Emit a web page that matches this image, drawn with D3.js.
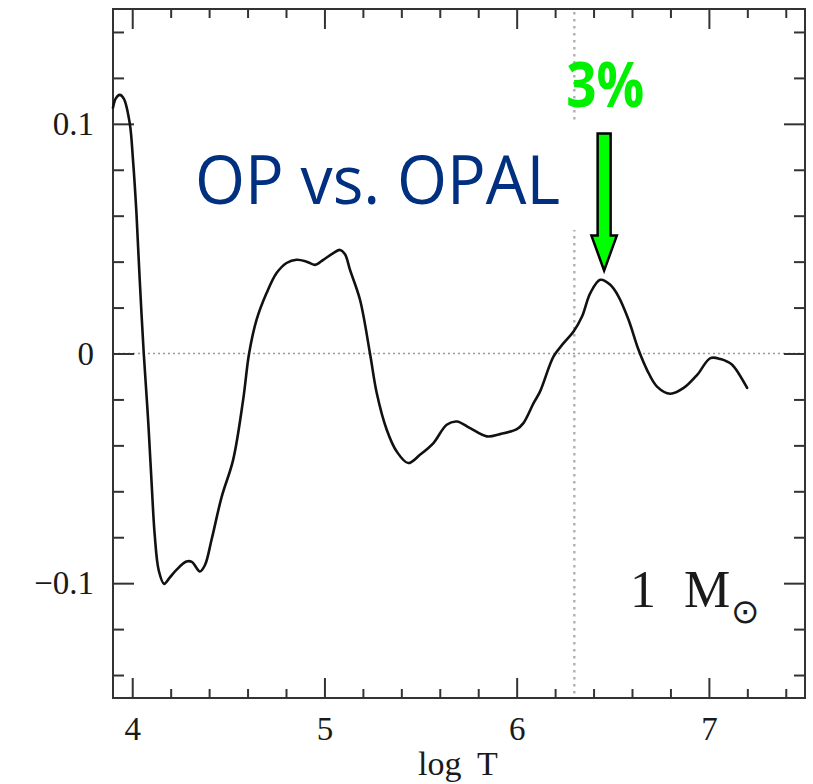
<!DOCTYPE html>
<html>
<head>
<meta charset="utf-8">
<script src="https://cdn.jsdelivr.net/npm/d3@7"></script>
<style>
  html, body { margin: 0; padding: 0; background: #fff; }
  svg { display: block; }
</style>
</head>
<body>
<svg id="chart" width="813" height="784"></svg>
<script>
// Relative opacity difference (OP vs. OPAL) along a 1 solar-mass model, versus log T
const logT = [3.90, 3.914, 3.935, 3.956, 3.987, 4.004, 4.022, 4.039, 4.060, 4.082, 4.100, 4.117, 4.138, 4.166,
  4.195, 4.230, 4.282, 4.310, 4.352, 4.378, 4.413, 4.465, 4.525, 4.577, 4.608, 4.647, 4.699, 4.751,
  4.803, 4.855, 4.907, 4.951, 4.994, 5.046, 5.081, 5.107, 5.133, 5.185, 5.237, 5.272, 5.324, 5.376,
  5.436, 5.497, 5.567, 5.636, 5.689, 5.758, 5.845, 5.914, 6.001, 6.035, 6.088, 6.122, 6.192, 6.244,
  6.296, 6.340, 6.383, 6.435, 6.487, 6.530, 6.582, 6.634, 6.678, 6.730, 6.799, 6.869, 6.939, 7.008,
  7.060, 7.121, 7.199];
const dKappa = [0.107, 0.111, 0.1126, 0.111, 0.1003, 0.0843, 0.0611, 0.0321, 0.0, -0.028, -0.055, -0.079, -0.0945, -0.1003,
  -0.0976, -0.0942, -0.0906, -0.0907, -0.0949, -0.0922, -0.081, -0.0625, -0.0463, -0.0202, 0.0, 0.0147, 0.0263, 0.035,
  0.0394, 0.0408, 0.040, 0.0386, 0.0408, 0.0437, 0.0451, 0.0432, 0.0364, 0.0234, 0.0, -0.0172, -0.0332, -0.0427,
  -0.0477, -0.0441, -0.039, -0.031, -0.0296, -0.0325, -0.0361, -0.0351, -0.0329, -0.0303, -0.0216, -0.0165, -0.0013, 0.0045,
  0.0096, 0.0161, 0.0263, 0.0321, 0.0299, 0.0248, 0.0147, 0.0016, -0.0071, -0.0144, -0.0175, -0.015, -0.0093, -0.002,
  -0.0024, -0.0049, -0.015];

const xDomain = [3.9, 7.5];
const yDomain = [-0.15, 0.15];
const xMajor = [4, 5, 6, 7];
const xMinor = d3.range(40, 75, 2).map(d => d / 10).filter(d => !xMajor.includes(d));
const yMajor = [-0.1, 0, 0.1];
const yMinor = d3.range(-14, 15, 2).map(d => d / 100).filter(d => !yMajor.some(m => Math.abs(m - d) < 1e-9));
const markerLogT = 6.30;          // vertical reference line
const peak = { logT: 6.455, value: 0.0335, label: "3%" };
const title = "OP vs. OPAL";
const xLabel = ["log", "T"];
const massLabel = ["1", "M", "⊙"];

const svg = d3.select("#chart");
const W = 813, H = 784;
const m = { left: 113, right: 8, top: 9, bottom: 86 };
const x = d3.scaleLinear().domain(xDomain).range([m.left, W - m.right]);
const y = d3.scaleLinear().domain(yDomain).range([H - m.bottom, m.top]);

const frameColor = "#333";
const textColor = "#1a1a1a";
const serif = "'Liberation Serif', 'Times New Roman', serif";

// reference lines
svg.append("line")
  .attr("x1", x(xDomain[0])).attr("x2", x(xDomain[1]))
  .attr("y1", y(0)).attr("y2", y(0))
  .attr("stroke", "#999").attr("stroke-width", 1.4).attr("stroke-dasharray", "2,3");
svg.append("line")
  .attr("x1", x(markerLogT)).attr("x2", x(markerLogT))
  .attr("y1", y(yDomain[1]) + 3).attr("y2", y(yDomain[0]))
  .attr("stroke", "#b0b0b0").attr("stroke-width", 2.4).attr("stroke-dasharray", "2.4,4.6");

// axes: major and minor ticks on all four sides, pointing inward
function styleAxis(g) {
  g.select(".domain").remove();
  g.selectAll(".tick line").attr("stroke", frameColor).attr("stroke-width", 2);
  g.selectAll(".tick text").attr("fill", textColor).attr("font-family", serif).attr("font-size", 33);
}
const fmtY = d => d === 0 ? "0" : d3.format(".1f")(d);

svg.append("g").attr("transform", `translate(0,${y(yDomain[0])})`)
  .call(d3.axisBottom(x).tickValues(xMajor).tickSizeInner(-20).tickSizeOuter(0).tickPadding(19).tickFormat(d3.format("d")))
  .call(styleAxis);
svg.append("g").attr("transform", `translate(0,${y(yDomain[0])})`)
  .call(d3.axisBottom(x).tickValues(xMinor).tickSizeInner(-9).tickSizeOuter(0).tickFormat(""))
  .call(styleAxis);
svg.append("g").attr("transform", `translate(0,${y(yDomain[1])})`)
  .call(d3.axisTop(x).tickValues(xMajor).tickSizeInner(-20).tickSizeOuter(0).tickFormat(""))
  .call(styleAxis);
svg.append("g").attr("transform", `translate(0,${y(yDomain[1])})`)
  .call(d3.axisTop(x).tickValues(xMinor).tickSizeInner(-9).tickSizeOuter(0).tickFormat(""))
  .call(styleAxis);
svg.append("g").attr("transform", `translate(${x(xDomain[0])},0)`)
  .call(d3.axisLeft(y).tickValues(yMajor).tickSizeInner(-21).tickSizeOuter(0).tickPadding(19).tickFormat(fmtY))
  .call(styleAxis);
svg.append("g").attr("transform", `translate(${x(xDomain[0])},0)`)
  .call(d3.axisLeft(y).tickValues(yMinor).tickSizeInner(-11).tickSizeOuter(0).tickFormat(""))
  .call(styleAxis);
svg.append("g").attr("transform", `translate(${x(xDomain[1])},0)`)
  .call(d3.axisRight(y).tickValues(yMajor).tickSizeInner(-21).tickSizeOuter(0).tickFormat(""))
  .call(styleAxis);
svg.append("g").attr("transform", `translate(${x(xDomain[1])},0)`)
  .call(d3.axisRight(y).tickValues(yMinor).tickSizeInner(-11).tickSizeOuter(0).tickFormat(""))
  .call(styleAxis);

// frame
svg.append("rect")
  .attr("x", x(xDomain[0])).attr("y", y(yDomain[1]))
  .attr("width", x(xDomain[1]) - x(xDomain[0])).attr("height", y(yDomain[0]) - y(yDomain[1]))
  .attr("fill", "none").attr("stroke", frameColor).attr("stroke-width", 2);

// curve
const pts = logT.map((t, i) => [t, dKappa[i]]);
svg.append("path")
  .datum(pts)
  .attr("fill", "none").attr("stroke", "#111").attr("stroke-width", 2.6)
  .attr("stroke-linejoin", "round").attr("stroke-linecap", "round")
  .attr("d", d3.line().x(d => x(d[0])).y(d => y(d[1])).curve(d3.curveCatmullRom.alpha(0.5)));

// title with its white backing box
svg.append("rect")
  .attr("x", 185).attr("y", 124).attr("width", 405).attr("height", 106)
  .attr("fill", "#fff");
svg.append("text")
  .attr("x", 195).attr("y", 204)
  .attr("font-family", "'Open Sans', sans-serif").attr("font-size", 68)
  .attr("textLength", 365).attr("lengthAdjust", "spacingAndGlyphs")
  .attr("fill", "#00307f")
  .text(title);

// arrow pointing down at the peak
const tipX = x(peak.logT), tipY = y(peak.value) - 6;
const shaftHalf = 6.5, headHalf = 12.7, headLen = 35, arrowLen = 137;
const arrow = d3.path();
arrow.moveTo(tipX, tipY);
arrow.lineTo(tipX - headHalf, tipY - headLen);
arrow.lineTo(tipX - shaftHalf, tipY - headLen);
arrow.lineTo(tipX - shaftHalf, tipY - arrowLen);
arrow.lineTo(tipX + shaftHalf, tipY - arrowLen);
arrow.lineTo(tipX + shaftHalf, tipY - headLen);
arrow.lineTo(tipX + headHalf, tipY - headLen);
arrow.closePath();
svg.append("path").attr("d", arrow.toString())
  .attr("fill", "#00ff00").attr("stroke", "#000").attr("stroke-width", 2.5)
  .attr("stroke-linejoin", "miter");
svg.append("text")
  .attr("x", tipX + 1).attr("y", tipY - arrowLen - 27)
  .attr("text-anchor", "middle")
  .attr("font-family", "'Open Sans', sans-serif").attr("font-weight", 700).attr("font-size", 62)
  .attr("textLength", 78).attr("lengthAdjust", "spacingAndGlyphs")
  .attr("fill", "#00f000")
  .text(peak.label);

// x-axis title
const xt = svg.append("text")
  .attr("y", 775)
  .attr("font-family", serif).attr("font-size", 34).attr("fill", textColor);
xt.append("tspan").attr("x", 418).text(xLabel[0]);
xt.append("tspan").attr("x", 477).text(xLabel[1]);

// mass label: "1 M" with the solar symbol set as a subscript
const ml = svg.append("text")
  .attr("y", 607)
  .attr("font-family", serif).attr("font-size", 52).attr("fill", textColor);
ml.append("tspan").attr("x", 630).text(massLabel[0]);
ml.append("tspan").attr("x", 684).text(massLabel[1]);
ml.append("tspan").attr("x", 731).attr("dy", 16)
  .attr("font-family", "'DejaVu Sans', sans-serif").attr("font-size", 34).text(massLabel[2]);
</script>
</body>
</html>
